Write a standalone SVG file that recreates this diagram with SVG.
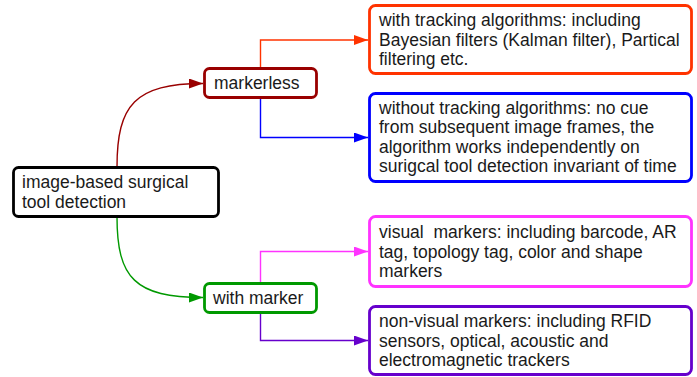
<svg xmlns="http://www.w3.org/2000/svg" width="697" height="377" viewBox="0 0 697 377">
<style>
  .box { fill: #ffffff; stroke-width: 2.8; }
  .t { font-family: "Liberation Sans", Arial, sans-serif; font-size: 17.5px; fill: #1a1a1a; }
  .c { fill: none; stroke-width: 1.4; }
</style>
<defs>
  <marker id="a-red" viewBox="0 0 14 10" refX="14" refY="5" markerWidth="14" markerHeight="10" markerUnits="userSpaceOnUse" orient="auto"><path d="M0,0 L14,5 L0,10 Z" fill="#990000"/></marker>
  <marker id="a-green" viewBox="0 0 14 10" refX="14" refY="5" markerWidth="14" markerHeight="10" markerUnits="userSpaceOnUse" orient="auto"><path d="M0,0 L14,5 L0,10 Z" fill="#009900"/></marker>
  <marker id="a-orange" viewBox="0 0 14 10" refX="14" refY="5" markerWidth="14" markerHeight="10" markerUnits="userSpaceOnUse" orient="auto"><path d="M0,0 L14,5 L0,10 Z" fill="#ff3300"/></marker>
  <marker id="a-blue" viewBox="0 0 14 10" refX="14" refY="5" markerWidth="14" markerHeight="10" markerUnits="userSpaceOnUse" orient="auto"><path d="M0,0 L14,5 L0,10 Z" fill="#0000ff"/></marker>
  <marker id="a-magenta" viewBox="0 0 14 10" refX="14" refY="5" markerWidth="14" markerHeight="10" markerUnits="userSpaceOnUse" orient="auto"><path d="M0,0 L14,5 L0,10 Z" fill="#ff33ff"/></marker>
  <marker id="a-purple" viewBox="0 0 14 10" refX="14" refY="5" markerWidth="14" markerHeight="10" markerUnits="userSpaceOnUse" orient="auto"><path d="M0,0 L14,5 L0,10 Z" fill="#6600cc"/></marker>
</defs>
<g id="connectors">
  <path class="c" stroke="#990000" d="M117,167 C117,105 135,83.5 203,83.5" marker-end="url(#a-red)"/>
  <path class="c" stroke="#009900" d="M117,217 C117,278 135,297.5 203,297.5" marker-end="url(#a-green)"/>
  <path class="c" stroke="#ff3300" d="M260.5,68 V40 H368" marker-end="url(#a-orange)"/>
  <path class="c" stroke="#0000ff" d="M260.5,98 V137.5 H368" marker-end="url(#a-blue)"/>
  <path class="c" stroke="#ff33ff" d="M260.5,283 V251.5 H368" marker-end="url(#a-magenta)"/>
  <path class="c" stroke="#6600cc" d="M260.5,313 V340.5 H368" marker-end="url(#a-purple)"/>
</g>
<g id="root">
  <rect class="box" x="13.5" y="167.5" width="205" height="49" rx="5" stroke="#000000"/>
  <text class="t" x="22" y="188">image-based surgical</text>
  <text class="t" x="22" y="208">tool detection</text>
</g>
<g id="markerless">
  <rect class="box" x="204.5" y="68.5" width="112" height="29" rx="5" stroke="#990000"/>
  <text class="t" x="214" y="89">markerless</text>
</g>
<g id="withmarker">
  <rect class="box" x="204.5" y="283.5" width="112" height="29" rx="5" stroke="#009900"/>
  <text class="t" x="213" y="304">with marker</text>
</g>
<g id="tracking">
  <rect class="box" x="369.5" y="5.5" width="322" height="68" rx="6" stroke="#ff3300"/>
  <text class="t" x="379" y="26">with tracking algorithms: including</text>
  <text class="t" x="379" y="45.5">Bayesian filters (Kalman filter), Partical</text>
  <text class="t" x="379" y="65">filtering etc.</text>
</g>
<g id="notracking">
  <rect class="box" x="369.5" y="93.5" width="322" height="88" rx="6" stroke="#0000ff"/>
  <text class="t" x="379" y="113.5">without tracking algorithms: no cue</text>
  <text class="t" x="379" y="133">from subsequent image frames, the</text>
  <text class="t" x="379" y="152.5">algorithm works independently on</text>
  <text class="t" x="379" y="172">surigcal tool detection invariant of time</text>
</g>
<g id="visual">
  <rect class="box" x="369.5" y="216.5" width="322" height="70" rx="6" stroke="#ff33ff"/>
  <text class="t" x="379" y="238" xml:space="preserve">visual  markers: including barcode, AR</text>
  <text class="t" x="379" y="257.5">tag, topology tag, color and shape</text>
  <text class="t" x="379" y="277">markers</text>
</g>
<g id="nonvisual">
  <rect class="box" x="369.5" y="306.5" width="322" height="68" rx="6" stroke="#6600cc"/>
  <text class="t" x="379" y="327">non-visual markers: including RFID</text>
  <text class="t" x="379" y="346.5">sensors, optical, acoustic and</text>
  <text class="t" x="379" y="366">electromagnetic trackers</text>
</g>
</svg>
